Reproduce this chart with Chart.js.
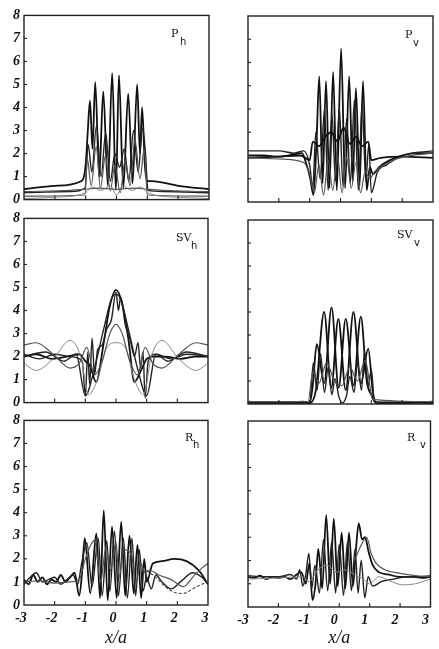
<!DOCTYPE html>
<html><head><meta charset="utf-8">
<script src="https://cdn.jsdelivr.net/npm/chart.js@4/dist/chart.umd.min.js"></script>
<style>
html,body{margin:0;padding:0;background:#fff;width:439px;height:649px;overflow:hidden;position:relative}
canvas{position:absolute}
</style></head><body>
<canvas id="c1"></canvas><canvas id="c2"></canvas><canvas id="c3"></canvas>
<canvas id="c4"></canvas><canvas id="c5"></canvas><canvas id="c6"></canvas>
<script>
// ---------- axis ticks ----------
const xTicks = [-3, -2, -1, 0, 1, 2, 3];
const yTicks = [0, 1, 2, 3, 4, 5, 6, 7, 8];

// ---------- P_h ----------
const phXa = [-3,-2,-1.15,-1.0,-0.93,-0.86,-0.78,-0.69,-0.56,-0.43,-0.28,-0.14,-0.02,0.08,0.22,0.38,0.52,0.67,0.76,0.83,0.92,1.0,1.15,2,3];
const phYa = [0.45,0.6,0.8,1.5,3.0,4.3,2.2,5.1,1.0,4.7,0.6,5.5,0.4,5.4,0.5,4.6,0.7,5.0,2.0,4.0,1.5,0.8,0.8,0.6,0.45];
const phXb = [-3,-1.5,-1.02,-0.92,-0.8,-0.65,-0.5,-0.35,-0.2,-0.05,0.1,0.25,0.4,0.55,0.7,0.85,0.94,1.02,1.5,3];
const phYb = [0.3,0.35,0.5,2.4,1.2,3.2,1.0,2.9,0.8,2.0,1.4,2.2,0.8,3.0,1.2,3.1,2.0,0.4,0.35,0.3];
const phXc = [-3,-1.02,-0.95,-0.82,-0.66,-0.52,-0.36,-0.2,-0.05,0.12,0.28,0.44,0.6,0.76,0.9,1.0,3];
const phYc = [0.15,0.2,1.8,0.6,2.3,0.5,1.9,0.4,1.5,0.3,1.7,0.6,2.6,0.9,2.2,0.2,0.15];
const phXd = [-3,-2,-1,-0.8,-0.5,-0.2,0,0.2,0.5,0.8,1,2,3];
const phYd = [0.05,0.1,0.3,0.55,0.4,0.6,0.2,0.6,0.4,0.55,0.3,0.1,0.05];
const phXe = [-3,-1.5,-1,-0.6,0,0.6,1,1.5,3];
const phYe = [0.35,0.4,0.45,0.5,0.45,0.5,0.45,0.4,0.35];

// ---------- P_v ----------
const pvXa = [-3,-2.5,-2,-1.5,-1.25,-1.1,-0.98,-0.88,-0.78,-0.69,-0.58,-0.47,-0.36,-0.24,-0.12,0.02,0.15,0.28,0.4,0.5,0.62,0.73,0.85,0.95,1.05,1.25,1.6,2,2.5,3];
const pvYa = [2.0,2.0,1.95,2.05,2.1,1.6,1.0,0.3,2.5,5.4,0.8,5.2,0.6,5.6,0.5,6.6,0.6,5.4,0.9,4.9,0.7,5.2,0.5,1.5,1.2,1.5,1.8,2.0,2.1,2.1];
const pvXb = [-3,-2,-1.5,-1.2,-1.0,-0.9,-0.8,-0.66,-0.52,-0.4,-0.28,-0.16,-0.04,0.08,0.2,0.32,0.45,0.58,0.7,0.82,0.92,1.0,1.2,1.5,2,3];
const pvYb = [2.2,2.2,2.1,2.2,1.6,0.6,3.0,1.0,4.0,0.5,3.8,0.9,4.1,0.7,3.6,0.8,4.4,0.5,4.3,0.9,2.5,0.4,1.3,1.6,2.0,2.2];
const pvXc = [-3,-2,-1.3,-1.0,-0.9,-0.7,-0.5,-0.3,-0.1,0.1,0.3,0.5,0.7,0.9,1.0,1.3,2,3];
const pvYc = [1.9,1.95,2.0,1.8,2.6,2.4,2.8,3.0,2.6,3.2,2.5,2.8,2.4,2.6,1.8,1.9,1.95,1.9];
const pvXd = [-3,-2,-1.2,-1.0,-0.85,-0.7,-0.55,-0.4,-0.25,-0.1,0.05,0.2,0.35,0.5,0.65,0.8,0.95,1.1,1.3,1.7,2.3,3];
const pvYd = [1.9,1.85,1.7,1.2,0.4,1.6,0.3,1.8,0.5,2.0,0.4,1.9,0.6,1.7,0.4,1.3,1.0,1.3,1.5,1.8,2.0,2.1];

// ---------- SV_h ----------
const svhX1 = [-3,-2.6,-2.1,-1.6,-1.2,-1.0,-0.85,-0.65,-0.4,-0.2,0,0.2,0.4,0.6,0.85,1.0,1.2,1.6,2.1,2.6,3];
const svhY1 = [2.0,2.1,1.9,2.0,2.1,1.8,1.6,0.9,2.6,4.2,4.9,4.3,2.8,0.9,1.5,1.9,2.0,2.0,1.9,2.0,2.0];
const svhX2 = [-3,-2.5,-2,-1.5,-1.1,-1.0,-0.92,-0.86,-0.78,-0.7,-0.6,-0.45,-0.3,-0.15,0,0.08,0.15,0.3,0.45,0.6,0.72,0.8,0.88,0.95,1.05,1.3,1.8,2.3,3];
const svhY2 = [2.1,1.9,2.1,2.0,1.8,0.3,2.2,0.8,2.8,1.2,2.3,2.5,3.2,3.6,4.8,4.0,4.6,3.4,2.8,2.0,2.6,1.5,2.2,0.2,1.8,2.1,1.9,2.1,2.0];
const svhX3 = [-3,-2.6,-2.05,-1.5,-1.15,-0.9,-0.6,-0.3,0,0.3,0.6,0.9,1.15,1.5,2.05,2.6,3];
const svhY3 = [1.7,1.4,1.9,2.7,2.0,0.35,1.0,2.4,2.6,2.4,1.0,0.35,2.0,2.7,1.9,1.4,1.7];
const svhX4 = [-3,-2.6,-2.05,-1.5,-1.2,-0.95,-0.7,-0.45,-0.2,0,0.2,0.45,0.7,0.95,1.2,1.5,2.05,2.6,3];
const svhY4 = [2.5,2.6,2.1,1.5,1.7,2.4,1.2,1.8,3.0,3.4,3.0,1.8,1.2,2.4,1.7,1.5,2.1,2.6,2.5];
const svhX5 = [-3,-2.3,-1.7,-1.3,-1.0,-0.7,-0.4,-0.15,0,0.15,0.4,0.7,1.0,1.3,1.7,2.3,3];
const svhY5 = [2.0,2.2,1.8,2.1,0.3,1.5,3.2,4.5,4.7,4.5,3.2,1.5,0.3,2.1,1.8,2.2,2.0];

// ---------- SV_v ----------
const svvX1 = [-3,-2,-1.3,-1.0,-0.9,-0.77,-0.53,-0.29,-0.06,0.17,0.42,0.66,0.85,1.0,1.15,2,3];
const svvY1 = [0.05,0.08,0.05,0.05,0.8,2.6,0.9,4.2,0.7,3.7,0.8,3.8,1.0,0.4,0.05,0.08,0.05];
const svvX2 = [-3,-2,-1.2,-0.98,-0.8,-0.53,-0.3,-0.07,0.17,0.42,0.66,0.9,1.05,1.15,2,3];
const svvY2 = [0.1,0.05,0.1,0.05,0.6,4.0,0.7,3.7,0.6,4.0,0.9,2.4,0.5,0.08,0.05,0.1];
const svvX3 = [-3,-1.5,-1.0,-0.88,-0.76,-0.65,-0.52,-0.4,-0.28,-0.18,-0.05,0.07,0.2,0.3,0.44,0.55,0.68,0.78,0.9,1.0,1.1,1.5,3];
const svvY3 = [0.0,0.02,0.0,1.8,0.6,2.2,0.5,1.6,0.4,1.1,0.3,0.05,0.4,1.2,0.5,1.8,0.6,2.3,0.8,1.5,0.1,0.02,0.0];
const svvX4 = [-3,-1.05,-0.9,-0.7,-0.45,-0.2,0.05,0.3,0.55,0.8,1.05,3];
const svvY4 = [0.1,0.1,1.4,0.9,1.8,1.0,0.8,1.6,1.0,1.9,0.2,0.1];

// ---------- R_h ----------
const rhX1 = [-3,-2.85,-2.7,-2.55,-2.4,-2.25,-2.1,-1.95,-1.8,-1.65,-1.5,-1.35,-1.2,-1.1,-1.02,-0.84,-0.64,-0.52,-0.40,-0.27,-0.13,0.02,0.17,0.3,0.44,0.58,0.7,0.82,0.92,1.0,1.2,1.5,1.9,2.3,2.7,3];
const rhY1 = [1.1,0.9,1.3,1.0,1.2,0.9,1.1,1.0,1.3,1.0,1.2,1.4,0.4,1.5,2.9,0.5,3.1,0.3,4.1,0.2,3.4,0.3,3.6,0.4,3.0,0.5,2.6,0.3,2.0,1.0,1.8,1.9,2.0,1.9,1.5,0.9];
const rhX2 = [-3,-2.8,-2.6,-2.4,-2.2,-2.0,-1.8,-1.6,-1.4,-1.25,-1.12,-0.95,-0.78,-0.58,-0.45,-0.3,-0.2,-0.05,0.08,0.24,0.37,0.52,0.64,0.76,0.88,1.0,1.15,1.3,1.5,1.8,2.1,2.5,2.8,3];
const rhY2 = [0.9,1.2,1.4,1.0,1.1,1.2,0.9,1.1,1.3,0.9,1.8,2.7,0.8,2.9,0.4,2.8,0.6,3.2,0.4,2.9,0.3,2.9,0.4,2.4,0.6,1.2,0.7,1.3,1.0,0.7,1.0,1.4,1.2,0.9];
const rhX3 = [-3,-2.5,-2,-1.5,-1.2,-1.0,-0.7,-0.5,-0.33,-0.18,0,0.1,0.25,0.5,0.65,0.8,0.95,1.1,1.4,1.8,2.2,2.5,2.8,3];
const rhY3 = [1.0,1.05,0.95,1.0,1.1,2.0,2.8,1.0,2.5,1.5,2.7,1.2,2.4,2.2,1.0,1.8,1.4,1.5,1.3,1.1,0.8,1.2,1.6,1.8];
const rhX4 = [1.0,1.3,1.6,1.9,2.2,2.5,2.8,3];
const rhY4 = [1.5,1.2,0.8,0.55,0.5,0.7,0.9,1.0];

// ---------- R_v ----------
const rvX1 = [-3,-2.8,-2.6,-2.4,-2.2,-2.0,-1.8,-1.6,-1.4,-1.25,-1.1,-0.98,-0.88,-0.78,-0.69,-0.56,-0.43,-0.3,-0.18,-0.05,0.08,0.2,0.32,0.45,0.55,0.64,0.75,0.85,0.96,1.1,1.3,1.6,2.0,2.4,2.8,3];
const rvY1 = [1.3,1.25,1.35,1.2,1.3,1.25,1.3,1.2,1.4,1.5,1.0,1.9,0.3,1.0,2.5,0.8,3.95,1.0,3.8,0.9,3.2,0.8,3.2,0.9,2.5,3.6,2.9,3.0,2.4,1.8,1.5,1.4,1.3,1.3,1.25,1.3];
const rvX2 = [-3,-2.5,-2,-1.6,-1.4,-1.3,-1.2,-1.1,-1.0,-0.9,-0.8,-0.65,-0.52,-0.38,-0.25,-0.12,0,0.14,0.27,0.4,0.52,0.62,0.72,0.84,0.95,1.1,1.4,1.8,2.2,2.6,3];
const rvY2 = [1.35,1.3,1.3,1.4,1.2,1.6,0.9,1.4,2.3,0.8,1.8,0.6,2.9,0.7,2.8,0.6,2.7,0.5,2.8,0.7,2.5,0.6,2.0,0.4,1.3,0.9,1.1,1.2,1.3,1.3,1.35];
const rvX3 = [-3,-2,-1.2,-1.0,-0.7,-0.4,-0.1,0.2,0.5,0.8,1.0,1.3,1.7,2.1,2.5,3];
const rvY3 = [1.2,1.25,1.3,1.1,1.6,1.8,1.5,1.6,1.4,1.2,1.0,1.3,1.1,0.95,1.0,1.2];
const rvX4 = [0.5,0.7,0.9,1.05,1.2,1.5,2.0,2.5,3];
const rvY4 = [2.0,2.6,3.0,2.3,1.9,1.6,1.45,1.35,1.3];

// ---------- styles ----------
const S = {
  k: {c:'#111', w:1.8, d:[]},
  d: {c:'#222', w:1.4, d:[]},
  g: {c:'#555', w:1.2, d:[]},
  l: {c:'#888', w:1.0, d:[]},
  dash: {c:'#444', w:1.1, d:[3,2]}
};

const panels = [
  {id:'c1', rect:[24,15,209,200], yLab:true, xLab:false, name:'P', sub:'h', lab:[171,37,180,45],
   series:[[phXe,phYe,'g'],[phXd,phYd,'l'],[phXc,phYc,'g'],[phXb,phYb,'d'],[phXa,phYa,'k']]},
  {id:'c2', rect:[248,16,433,202], yLab:false, xLab:false, name:'P', sub:'v', lab:[405,38,413,46],
   series:[[pvXd,pvYd,'g'],[pvXc,pvYc,'k'],[pvXb,pvYb,'d'],[pvXa,pvYa,'k']]},
  {id:'c3', rect:[24,218,208,403], yLab:true, xLab:false, name:'SV', sub:'h', lab:[176,241,191,249],
   series:[[svhX4,svhY4,'g'],[svhX3,svhY3,'l'],[svhX5,svhY5,'d'],[svhX2,svhY2,'d'],[svhX1,svhY1,'k']]},
  {id:'c4', rect:[248,220,433,404], yLab:false, xLab:false, name:'SV', sub:'v', lab:[397,238,414,246],
   series:[[svvX4,svvY4,'g'],[svvX3,svvY3,'d'],[svvX2,svvY2,'k'],[svvX1,svvY1,'k']]},
  {id:'c5', rect:[24,420,208,605], yLab:true, xLab:true, name:'R', sub:'h', lab:[185,441,193,448],
   series:[[rhX4,rhY4,'dash'],[rhX3,rhY3,'g'],[rhX2,rhY2,'d'],[rhX1,rhY1,'k']]},
  {id:'c6', rect:[248,421,434,607], yLab:false, xLab:true, name:'R', sub:'v', lab:[407,441,420,448],
   series:[[rvX4,rvY4,'g'],[rvX3,rvY3,'l'],[rvX2,rvY2,'d'],[rvX1,rvY1,'k']]}
];

const framePlugin = {
  id: 'frame',
  afterDatasetsDraw(chart, args, o) {
    const {ctx, chartArea: a, scales: {x, y}} = chart;
    ctx.save();
    ctx.strokeStyle = '#222';
    ctx.lineWidth = 1.4;
    ctx.strokeRect(a.left, a.top, a.right - a.left, a.bottom - a.top);
    ctx.lineWidth = 1.1;
    x.ticks.forEach(t => {
      const p = x.getPixelForValue(t.value);
      if (p > a.left + 1 && p < a.right - 1) {
        ctx.beginPath(); ctx.moveTo(p, a.bottom); ctx.lineTo(p, a.bottom - 4); ctx.stroke();
      }
    });
    y.ticks.forEach(t => {
      const p = y.getPixelForValue(t.value);
      if (p > a.top + 1 && p < a.bottom - 1) {
        ctx.beginPath(); ctx.moveTo(a.left, p); ctx.lineTo(a.left + 3, p); ctx.stroke();
      }
    });
    // panel label
    ctx.fillStyle = '#111';
    ctx.textBaseline = 'alphabetic';
    ctx.font = '11px "DejaVu Serif"';
    ctx.fillText(o.name, o.lab[0] - o.ox, o.lab[1] - o.oy);
    ctx.font = '10px "DejaVu Sans"';
    ctx.fillText(o.sub, o.lab[2] - o.ox, o.lab[3] - o.oy);
    ctx.restore();
  }
};

panels.forEach(p => {
  const [L, T, R, B] = p.rect;
  const ML = p.yLab ? 24 : 20;
  const MT = p.yLab ? 12 : 4;
  const MR = p.yLab ? 10 : 5;
  const MB = p.xLab ? 649 - B : (p.yLab ? 12 : 4);
  const cx = L - ML, cy = T - MT;
  const W = (R - L) + ML + MR, H = (B - T) + MT + MB;
  const cv = document.getElementById(p.id);
  cv.width = W; cv.height = H;
  cv.style.left = cx + 'px'; cv.style.top = cy + 'px';
  cv.style.width = W + 'px'; cv.style.height = H + 'px';

  const datasets = p.series.map(([xs, ys, st]) => ({
    data: xs.map((v, i) => ({x: v, y: ys[i]})),
    borderColor: S[st].c,
    borderWidth: S[st].w,
    borderDash: S[st].d,
    pointRadius: 0,
    fill: false,
    cubicInterpolationMode: 'monotone'
  }));

  new Chart(cv, {
    type: 'line',
    data: {datasets},
    plugins: [framePlugin],
    options: {
      responsive: false,
      animation: false,
      devicePixelRatio: 1,
      layout: {padding: {left: 0, top: MT, right: MR, bottom: 0}},
      plugins: {
        legend: {display: false},
        tooltip: {enabled: false},
        frame: {name: p.name, sub: p.sub, lab: p.lab, ox: cx, oy: cy}
      },
      scales: {
        x: {
          type: 'linear', min: -3, max: 3,
          afterBuildTicks: s => { s.ticks = xTicks.map(v => ({value: v})); },
          afterFit: s => { s.height = MB; },
          grid: {display: false, drawTicks: false},
          border: {display: false},
          ticks: {
            display: p.xLab, autoSkip: false, maxRotation: 0, padding: 5,
            labelOffset: p.yLab ? -3 : -5,
            color: '#111',
            font: {family: '"Liberation Serif"', style: 'italic', weight: 'bold', size: 14}
          },
          title: {
            display: p.xLab, text: 'x/a', color: '#111', padding: {top: 1, bottom: 0},
            font: {family: '"Liberation Serif"', style: 'italic', size: 18}
          }
        },
        y: {
          type: 'linear', min: 0, max: 8,
          afterBuildTicks: s => { s.ticks = yTicks.map(v => ({value: v})); },
          afterFit: s => { s.width = ML; },
          grid: {display: false, drawTicks: false},
          border: {display: false},
          ticks: {
            display: p.yLab, padding: 4, color: '#111',
            font: {family: '"Liberation Serif"', style: 'italic', weight: 'bold', size: 14}
          }
        }
      }
    }
  });
});
</script>
</body></html>
